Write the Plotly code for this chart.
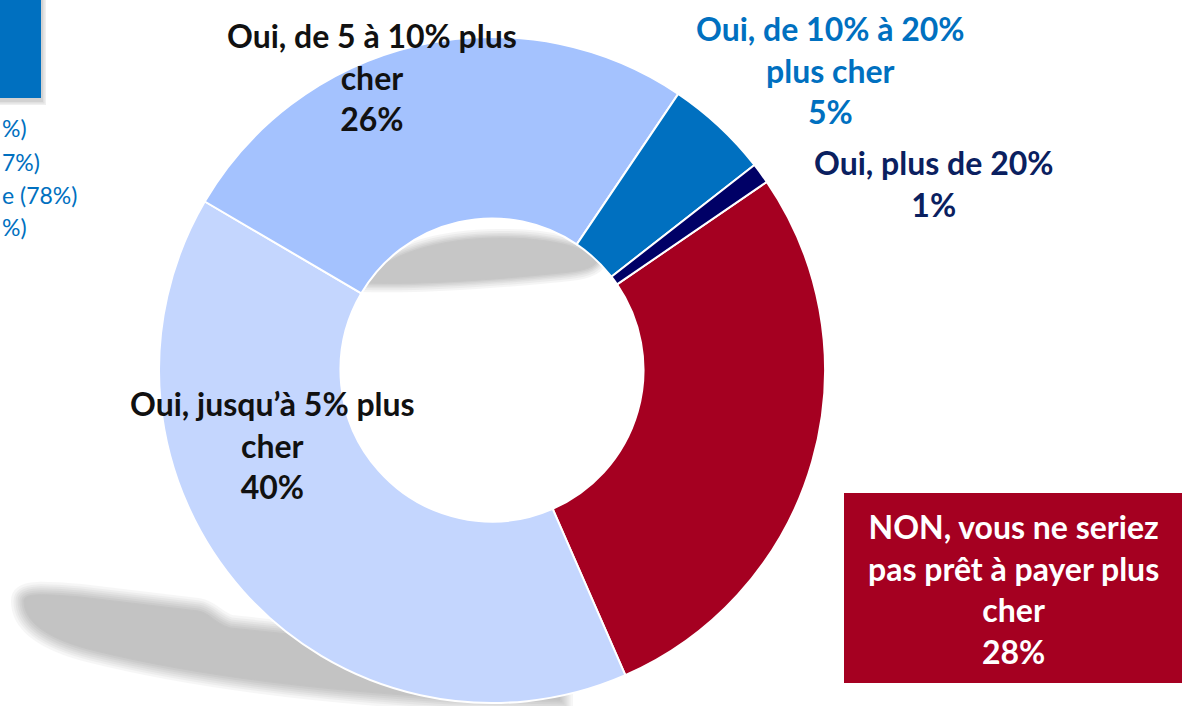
import plotly.graph_objects as go

W, H = 1190, 706

# ---- data ----
labels = [
    "NON, vous ne seriez<br>pas prêt à payer plus<br>cher",
    "Oui, jusqu’à 5% plus<br>cher",
    "Oui, de 5 à 10% plus<br>cher",
    "Oui, de 10% à 20%<br>plus cher",
    "Oui, plus de 20%",
]
values = [28, 40, 26, 5, 1]
colors = ["#A50021", "#C4D6FE", "#A4C2FE", "#0070C0", "#000066"]
label_colors = ["#FFFFFF", "#111111", "#111111", "#0070C0", "#0A2060"]
label_pos = [(1013, 589), (272, 445), (372, 77), (830, 70), (933, 183)]
side_texts = ["%)", "7%)", "e (78%)", "%)"]
side_text_y = [128, 162, 195, 227]


def px(x):
    return x / W


def py(y):
    return 1 - y / H


def path(cmds):
    out = []
    for c in cmds:
        if isinstance(c, str):
            out.append(c)
        else:
            out.append(f"{px(c[0]):.5f},{py(c[1]):.5f}")
    return " ".join(out)


fig = go.Figure()

cx, cy, r = 492, 370, 333
fig.add_trace(go.Pie(
    labels=[l.replace("<br>", " ") for l in labels],
    values=values,
    sort=False,
    direction="clockwise",
    rotation=55.6,
    hole=0.455,
    marker=dict(colors=colors, line=dict(color="white", width=2)),
    textinfo="none",
    hoverinfo="label+percent",
    showlegend=False,
    domain=dict(x=[px(cx - r), px(cx + r)], y=[py(cy + r), py(cy - r)]),
))

shapes = []

# soft shadows (stacked translucent layers to imitate blur)
shadow_main = path(["M", (24, 601), "C", (24, 593), (42, 594), (80, 597), "L", (198, 611),
                    "C", (210, 613), (214, 623), (230, 628), "L", (560, 662), "L", (560, 700),
                    "L", (450, 698), "C", (330, 691), (200, 677), (92, 650),
                    "C", (44, 638), (24, 620), (24, 601), "Z"])
shadow_hole = path(["M", (362, 283), "C", (385, 254), (440, 238), (500, 238),
                    "C", (550, 238), (584, 247), (598, 259), "C", (596, 268), (582, 271), (560, 273),
                    "C", (500, 279), (430, 285), (362, 283), "Z"])
for w in [26, 21, 17, 13, 9, 5, 1]:
    shapes.append(dict(type="path", xref="paper", yref="paper", path=shadow_main,
                       fillcolor="black", line=dict(color="black", width=w),
                       opacity=0.033, layer="below"))
for w in [18, 14, 10, 7, 4, 1]:
    shapes.append(dict(type="path", xref="paper", yref="paper", path=shadow_hole,
                       fillcolor="black", line=dict(color="black", width=w),
                       opacity=0.036, layer="below"))

# top-left blue box with shadow
for w in [8, 5, 2]:
    shapes.append(dict(type="rect", xref="paper", yref="paper",
                       x0=px(-10), x1=px(42), y0=py(101), y1=py(-10),
                       fillcolor="black", line=dict(color="black", width=w),
                       opacity=0.06, layer="below"))
shapes.append(dict(type="rect", xref="paper", yref="paper",
                   x0=px(-10), x1=px(41), y0=py(98), y1=py(-10),
                   fillcolor="#0070C0", line=dict(width=0), layer="above"))

# red box for the NON label
shapes.append(dict(type="rect", xref="paper", yref="paper",
                   x0=px(844), x1=px(1182), y0=py(683), y1=py(493),
                   fillcolor="#A50021", line=dict(width=0), layer="above"))

annotations = []
for lab, v, col, (x, y) in zip(labels, values, label_colors, label_pos):
    annotations.append(dict(
        x=px(x), y=py(y), xref="paper", yref="paper",
        text=f"<b>{lab}<br>{v}%</b>", showarrow=False,
        xanchor="center", yanchor="middle", align="center",
        font=dict(family="Lato", size=32, color=col),
    ))
for t, y in zip(side_texts, side_text_y):
    annotations.append(dict(
        x=px(1), y=py(y), xref="paper", yref="paper", text=t, showarrow=False,
        xanchor="left", yanchor="middle", borderpad=0,
        font=dict(family="Lato", size=23, color="#0070C0"),
    ))

fig.update_layout(
    width=W, height=H,
    margin=dict(l=0, r=0, t=0, b=0),
    paper_bgcolor="white", plot_bgcolor="white",
    shapes=shapes, annotations=annotations,
)

fig.write_html(
    "out.html",
    config={"displayModeBar": False},
    post_script="document.body.style.margin='0';document.body.style.overflow='hidden';",
)
